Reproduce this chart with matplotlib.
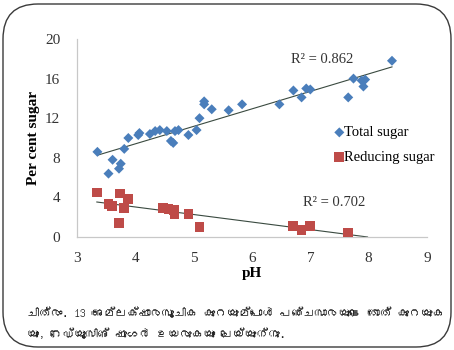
import numpy as np
import matplotlib
matplotlib.use("Agg")
import matplotlib.pyplot as plt
from matplotlib import font_manager
from matplotlib.patches import FancyBboxPatch
from matplotlib.ft2font import FT2Font

# --- Data ---
total_ph = [3.35, 3.54, 3.61, 3.72, 3.75, 3.81, 3.88, 4.05, 4.07, 4.25, 4.34, 4.42,
            4.54, 4.61, 4.65, 4.68, 4.74, 4.91, 5.05, 5.10, 5.18, 5.18, 5.31, 5.60,
            5.83, 6.47, 6.71, 6.85, 6.93, 7.00, 7.65, 7.74, 7.88, 7.91, 7.94, 8.40]
total_sugar = [8.6, 6.4, 7.8, 6.9, 7.4, 8.9, 10.0, 10.3, 10.5, 10.4, 10.7, 10.8,
               10.7, 9.7, 9.5, 10.7, 10.8, 10.3, 10.8, 12.0, 13.7, 13.4, 12.9, 12.8,
               13.4, 13.4, 14.8, 14.1, 15.0, 14.9, 14.1, 16.0, 15.8, 15.2, 15.9, 17.8]

reducing_ph = [3.34, 3.54, 3.60, 3.72, 3.74, 3.81, 3.88, 4.48, 4.57, 4.66, 4.67,
               4.91, 5.10, 6.71, 6.85, 6.99, 7.65]
reducing_sugar = [4.5, 3.3, 3.1, 1.4, 4.4, 2.9, 3.8, 2.9, 2.8, 2.7, 2.3,
                  2.3, 1.0, 1.1, 0.7, 1.1, 0.4]

r2_labels = ["R² = 0.862", "R² = 0.702"]
caption = ("ചിത്രം. 13 അമ്ലക്ഷാരസൂചിക കുറയുമ്പോൾ പഞ്ചസാരയുടെ തോത് കുറയുക\n"
           "യും, റെഡ്യൂസിങ് ഷുഗർ ഉയരുകയും ചെയ്യുന്നു.")


# --- find a font that can draw Malayalam, if any ---
def malayalam_family():
    for f in font_manager.fontManager.ttflist:
        try:
            if 0x0D1A in FT2Font(f.fname).get_charmap():
                return f.name
        except Exception:
            pass
    return None


serif = "Liberation Serif"
blue = "#4a7ebb"
red = "#be4b48"

fig = plt.figure(figsize=(4.54, 3.5), dpi=100)
ax = fig.add_axes([0.1696, 0.3229, 0.7709, 0.5657])

ax.scatter(total_ph, total_sugar, marker="D", s=26, color=blue, edgecolors="none",
           label="Total sugar", zorder=3)
ax.scatter(reducing_ph, reducing_sugar, marker="s", s=50, color=red, edgecolors="none",
           label="Reducing sugar", zorder=3)

# linear trend lines
for xs, ys in [(total_ph, total_sugar), (reducing_ph, reducing_sugar)]:
    k, b = np.polyfit(xs, ys, 1)
    xx = np.array([min(xs), max(max(xs), -b / k if k < 0 else max(xs))])
    ax.plot(xx, k * xx + b, color="#3a4a40", lw=0.8, zorder=2)

ax.text(7.2, 17.95, r2_labels[0], fontfamily=serif, fontsize=10.5, color="#333333",
        ha="center", va="center")
ax.text(7.4, 3.45, r2_labels[1], fontfamily=serif, fontsize=10.5, color="#333333",
        ha="center", va="center")

ax.set_xlim(3, 9)
ax.set_ylim(0, 20)
ax.set_xticks(range(3, 10))
ax.set_yticks(range(0, 21, 4))
for lab in ax.get_xticklabels() + ax.get_yticklabels():
    lab.set_fontfamily(serif)
ax.tick_params(labelsize=11, colors="#333333", length=0)
ax.tick_params(axis="x", pad=11)
ax.tick_params(axis="y", pad=12)
for s in ["top", "right"]:
    ax.spines[s].set_visible(False)
for s in ["left", "bottom"]:
    ax.spines[s].set_color("#c8c8c8")
    ax.spines[s].set_linewidth(0.9)

ax.set_xlabel("pH", fontfamily=serif, fontweight="bold", fontsize=11, labelpad=1)
ax.set_ylabel("Per cent sugar", fontfamily=serif, fontweight="bold", fontsize=11,
              labelpad=4)

leg = ax.legend(loc="upper left", bbox_to_anchor=(0.712, 0.59), frameon=False,
                prop={"family": serif, "size": 10.5}, handletextpad=-0.2,
                handlelength=1.0, labelspacing=0.8, borderaxespad=0)

# rounded frame around the figure
frame = FancyBboxPatch((0.03, 0.03), 4.48, 3.43, boxstyle="round,pad=0,rounding_size=0.35",
                       transform=fig.dpi_scale_trans, facecolor="none",
                       edgecolor="#3a3a3a", lw=1.0)
fig.patches.append(frame)

fam = malayalam_family()
families = [fam, "DejaVu Sans"] if fam else ["DejaVu Sans"]
fig.text(27 / 454, 1 - 323 / 350, caption, family=families, fontsize=8.5, style="italic",
         color="#222222", ha="left", va="center", linespacing=1.85)

fig.savefig("out.png", dpi=100)
